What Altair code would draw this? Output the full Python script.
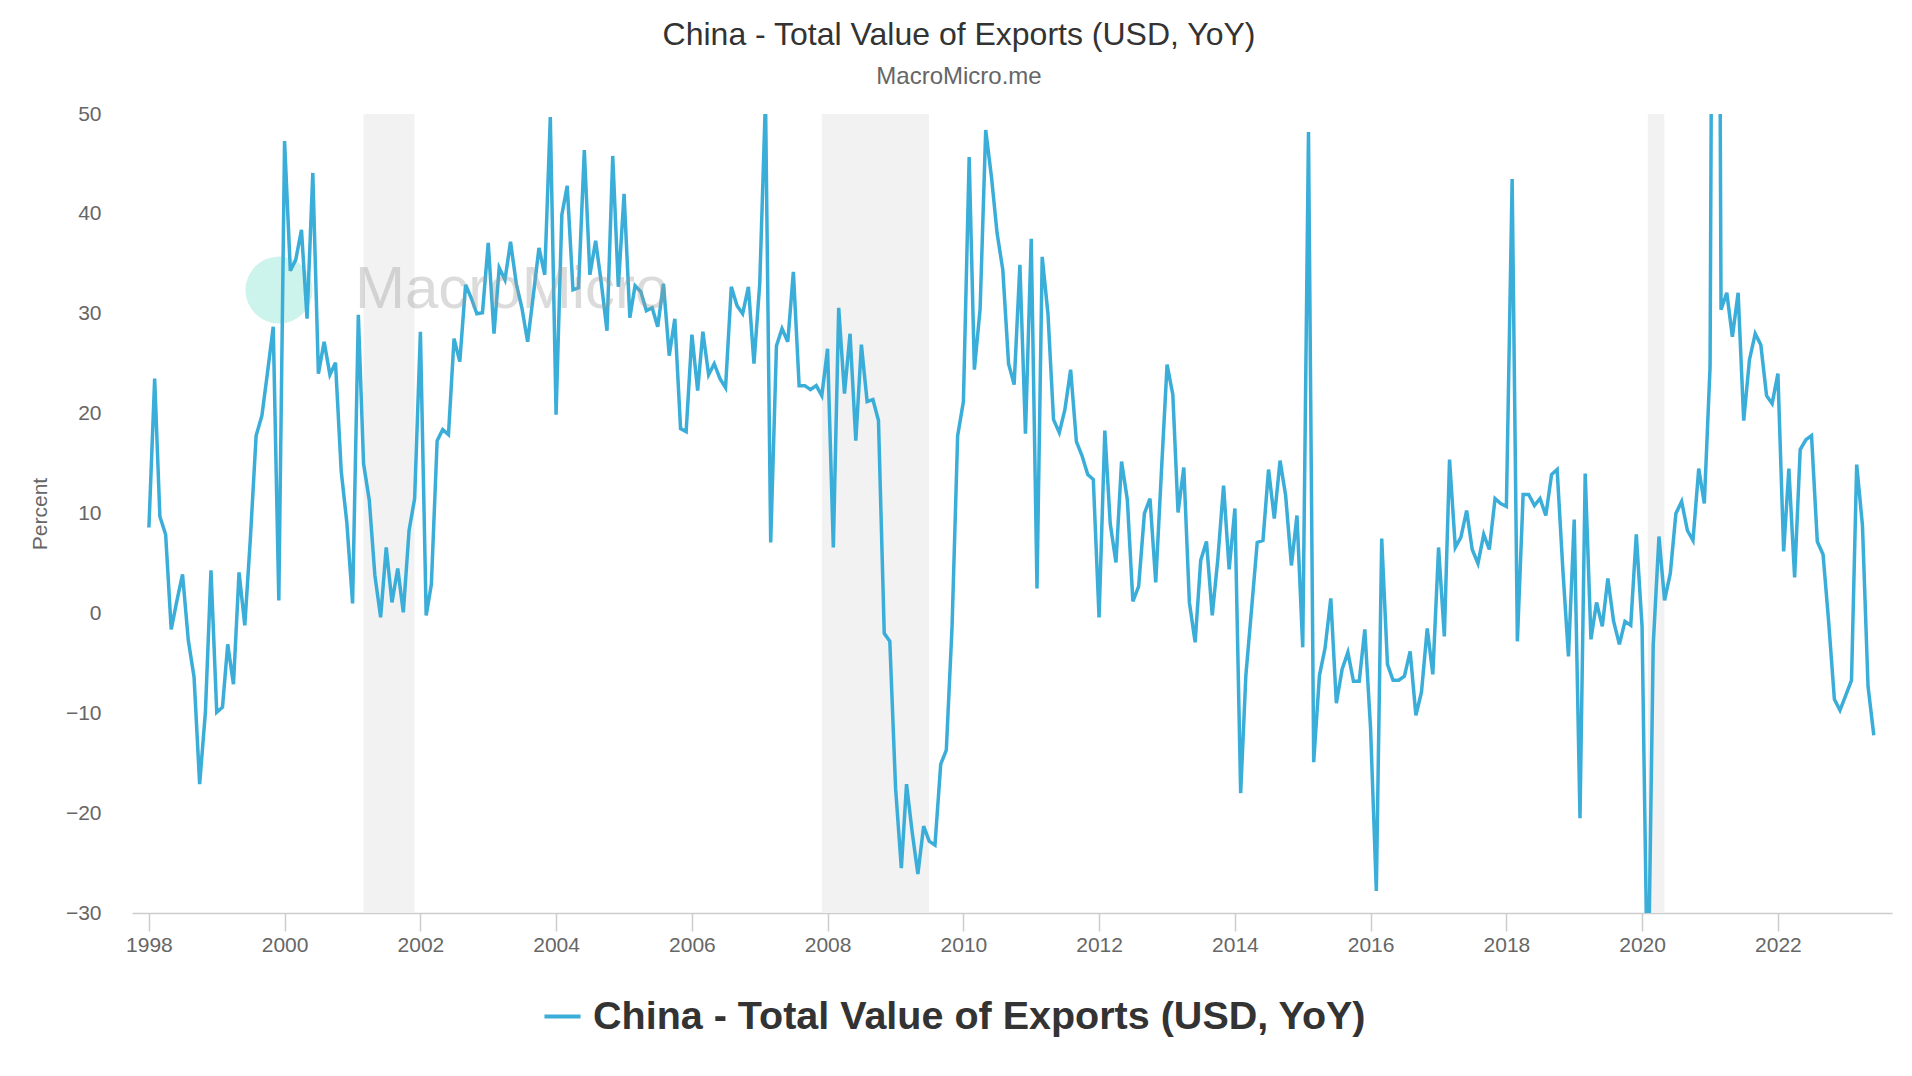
import altair as alt
import pandas as pd

SERIES = "China - Total Value of Exports (USD, YoY)"
START_YEAR = 1998
VALUES = [
    # 1998
    8.6, 23.5, 9.7, 7.9, -1.6, 1.3, 3.9, -2.7, -6.4, -17.1, -9.9, 4.3,
    # 1999
    -9.9, -9.4, -3.1, -7.1, 4.1, -1.2, 7.5, 17.8, 19.8, 24.1, 28.7, 1.3,
    # 2000
    47.3, 34.3, 35.4, 38.4, 29.5, 44.1, 24.0, 27.2, 23.9, 25.1, 14.2, 9.1,
    # 2001
    1.0, 29.9, 15.0, 11.3, 3.8, -0.4, 6.6, 1.1, 4.5, 0.1, 8.3, 11.5,
    # 2002
    28.2, -0.2, 2.9, 17.3, 18.4, 17.9, 27.5, 25.2, 32.9, 31.6, 30.0, 30.1,
    # 2003
    37.1, 28.0, 34.6, 33.4, 37.2, 33.0, 30.6, 27.2, 31.9, 36.6, 33.9, 49.7,
    # 2004
    19.9, 39.9, 42.8, 32.4, 32.6, 46.4, 33.9, 37.3, 33.0, 28.3, 45.8, 32.7,
    # 2005
    42.0, 29.6, 32.8, 32.2, 30.3, 30.6, 28.7, 33.0, 25.8, 29.5, 18.5, 18.2,
    # 2006
    27.9, 22.3, 28.2, 23.9, 25.0, 23.5, 22.6, 32.7, 30.8, 30.0, 32.7, 25.0,
    # 2007
    33.0, 51.6, 7.1, 26.8, 28.5, 27.2, 34.2, 22.8, 22.8, 22.4, 22.8, 21.8,
    # 2008
    26.5, 6.6, 30.6, 22.0, 28.0, 17.3, 26.9, 21.2, 21.4, 19.3, -2.0, -2.8,
    # 2009
    -17.5, -25.5, -17.1, -22.0, -26.1, -21.3, -22.8, -23.2, -15.1, -13.7, -1.3, 17.8,
    # 2010
    21.2, 45.7, 24.4, 30.5, 48.4, 43.7, 38.1, 34.4, 25.0, 22.9, 34.9, 18.0,
    # 2011
    37.5, 2.5, 35.7, 30.0, 19.4, 18.1, 20.4, 24.4, 17.2, 15.8, 13.9, 13.4,
    # 2012
    -0.4, 18.3, 9.0, 5.1, 15.2, 11.4, 1.2, 2.7, 10.0, 11.5, 3.1, 14.0,
    # 2013
    24.9, 21.9, 10.1, 14.6, 1.1, -2.9, 5.3, 7.2, -0.2, 5.4, 12.8, 4.4,
    # 2014
    10.5, -18.0, -6.2, 0.5, 7.1, 7.3, 14.4, 9.5, 15.3, 11.8, 4.8, 9.8,
    # 2015
    -3.4, 48.2, -14.9, -6.2, -3.5, 1.5, -9.0, -5.6, -3.9, -6.8, -6.8, -1.6,
    # 2016
    -11.5, -27.8, 7.5, -5.1, -6.7, -6.7, -6.3, -3.8, -10.2, -7.9, -1.5, -6.1,
    # 2017
    6.6, -2.3, 15.4, 6.6, 7.6, 10.3, 6.4, 5.0, 7.9, 6.4, 11.5, 11.0,
    # 2018
    10.7, 43.5, -2.8, 11.9, 11.9, 10.8, 11.5, 9.8, 13.9, 14.4, 4.3, -4.3,
    # 2019
    9.4, -20.5, 14.0, -2.6, 1.1, -1.3, 3.5, -0.8, -3.1, -0.8, -1.2, 7.9,
    # 2020
    -1.3, -40.6, -3.2, 7.7, 1.3, 4.0, 10.0, 11.2, 8.3, 7.3, 14.5, 11.0,
    # 2021
    24.7, 154.9, 30.4, 32.1, 27.7, 32.1, 19.3, 25.4, 28.0, 26.9, 21.8, 21.0,
    # 2022
    24.0, 6.2, 14.5, 3.6, 16.4, 17.4, 17.8, 7.2, 5.9, -0.8, -8.6, -9.7,
    # 2023
    -8.2, -6.7, 14.9, 8.8, -7.3, -12.2,
]
DATES = [f"{START_YEAR + i // 12}-{i % 12 + 1:02d}-01" for i in range(len(VALUES))]

BAND_START = ["2001-03-01", "2007-12-01", "2020-02-01"]
BAND_END = ["2001-11-30", "2009-06-30", "2020-04-30"]

TICK_YEARS = list(range(1998, 2023, 2))
Y_TICKS = [-30, -20, -10, 0, 10, 20, 30, 40, 50]

df = pd.DataFrame({"date": DATES, "value": VALUES, "series": SERIES})
bands = pd.DataFrame({"start": BAND_START, "end": BAND_END})

W, H = 1760, 799
FONT = "Liberation Sans"
LINE_COLOR = "#3aaed8"

x_scale = alt.Scale(
    type="utc",
    domain=[alt.DateTime(year=1997, month=10, date=2, utc=True),
            alt.DateTime(year=2023, month=9, date=7, utc=True)],
)
y_scale = alt.Scale(domain=[-30, 50], nice=False, zero=False)

band_layer = alt.Chart(bands).mark_rect(color="#f2f2f2").encode(
    x=alt.X("start:T", scale=x_scale),
    x2="end:T",
    y=alt.datum(50, scale=y_scale),
    y2=alt.datum(-30),
)

line_layer = alt.Chart(df).mark_line(strokeWidth=3.5, clip=True).encode(
    x=alt.X(
        "date:T",
        scale=x_scale,
        axis=alt.Axis(
            values=[alt.DateTime(year=y, month=1, date=1, utc=True) for y in TICK_YEARS],
            format="%Y",
            formatType="utc",
            title=None,
            grid=False,
            domainColor="#cccccc",
            domainWidth=1.5,
            tickColor="#cccccc",
            tickWidth=1.5,
            tickSize=18,
            labelPadding=3,
            labelFontSize=21,
            labelColor="#666666",
            labelFont=FONT,
        ),
    ),
    y=alt.Y(
        "value:Q",
        scale=y_scale,
        axis=alt.Axis(
            values=Y_TICKS,
            title="Percent",
            titleFontSize=21,
            titleFontWeight="normal",
            titleColor="#666666",
            titleFont=FONT,
            titleX=-82,
            domain=False,
            ticks=False,
            labelPadding=31,
            labelFontSize=21,
            labelColor="#666666",
            labelFont=FONT,
            gridColor="#e6e6e6",
            gridWidth=1.5,
        ),
    ),
    color=alt.Color(
        "series:N",
        scale=alt.Scale(range=[LINE_COLOR]),
        legend=alt.Legend(
            title=None,
            orient="none",
            legendX=410,
            legendY=882,
            symbolType="stroke",
            symbolStrokeWidth=4,
            symbolSize=1300,
            labelFontSize=39.5,
            labelFontWeight="bold",
            labelColor="#333333",
            labelFont=FONT,
            labelLimit=2000,
            labelOffset=10,
        ),
    ),
)

wm = pd.DataFrame({"label": ["MacroMicro"]})
wm_circle = alt.Chart(wm).mark_circle(color="#c8f3ea", opacity=0.9, size=4500).encode(
    x=alt.value(147), y=alt.value(176)
)
wm_text = alt.Chart(wm).mark_text(
    align="left", baseline="middle", fontSize=60, color="#999999", opacity=0.35, font=FONT
).encode(x=alt.value(223), y=alt.value(176), text="label:N")

chart = alt.layer(band_layer, wm_circle, line_layer, wm_text).properties(
    width=W,
    height=H,
    title=alt.TitleParams(
        text=SERIES,
        subtitle="MacroMicro.me",
        anchor="middle",
        frame="group",
        dx=-53,
        fontSize=32,
        fontWeight="normal",
        font=FONT,
        color="#333333",
        subtitleFontSize=24,
        subtitleFont=FONT,
        subtitleColor="#666666",
        subtitlePadding=13,
        offset=13,
    ),
    autosize=alt.AutoSizeParams(type="none"),
    padding={"left": 124, "top": 106, "right": 12, "bottom": 140},
).configure(background="white").configure_view(stroke=None, strokeWidth=0)

chart.save("out.html", embed_options={"renderer": "svg", "actions": False})
